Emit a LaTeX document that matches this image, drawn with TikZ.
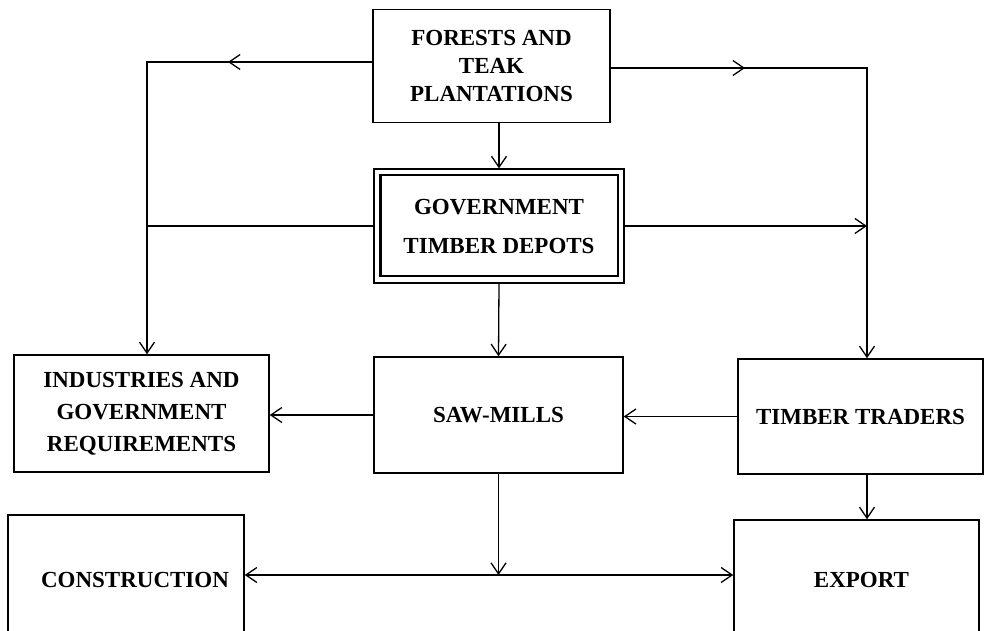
\documentclass[tikz,border=0pt]{standalone}
\usepackage{fontspec}
\setmainfont{Liberation Serif}
\usetikzlibrary{arrows.meta}
\begin{document}
\begin{tikzpicture}[x=1pt,y=-1pt,
 box/.style={draw, line width=1.5pt, inner sep=0pt, align=center},
 conn/.style={line width=1.3pt},
 arr/.style={conn, -{Straight Barb[length=11pt,width=15pt,line width=1.3pt]}},
]
\useasboundingbox (0,0) rectangle (984,631);
\clip (0,0) rectangle (984,631);

\node[box, minimum width=237pt, minimum height=113pt, font=\bfseries\fontsize{23}{28}\selectfont] (forests) at (491.5,66) {FORESTS AND\\TEAK\\PLANTATIONS};
\node[box, line width=1.2pt, minimum width=250pt, minimum height=114pt, font=\bfseries\fontsize{23}{39}\selectfont] (gov) at (499,226) {GOVERNMENT\\TIMBER DEPOTS};
\draw[line width=2.2pt] ([xshift=7pt,yshift=-7pt]gov.north west) rectangle ([xshift=-7pt,yshift=8pt]gov.south east);
\node[box, minimum width=255pt, minimum height=117pt, font=\bfseries\fontsize{23}{32}\selectfont] (ind) at (141.5,413.5) {INDUSTRIES AND\\GOVERNMENT\\REQUIREMENTS};
\node[box, minimum width=249pt, minimum height=116pt, font=\bfseries\fontsize{23}{30}\selectfont] (saw) at (498.5,415) {SAW-MILLS};
\node[box, minimum width=245pt, minimum height=115pt, font=\bfseries\fontsize{23}{30}\selectfont] (trad) at (860.5,416.5) {TIMBER TRADERS};
\node[box, minimum width=236pt, minimum height=130pt, font=\bfseries\fontsize{23}{30}\selectfont] (cons) at (126,580) {\hspace*{18pt}CONSTRUCTION};
\node[box, minimum width=245pt, minimum height=120pt, font=\bfseries\fontsize{23}{30}\selectfont] (exp) at (856.5,580) {\hspace*{10pt}EXPORT};

\coordinate (cl) at (147,62);
\coordinate (cr) at (867,68);
\coordinate (ml) at (228,62);
\coordinate (mr) at (745,68);
\coordinate (j) at (499,575);

% forests to left and right branches
\draw[arr] (forests.west |- cl) -- (cl) -- (cl |- ind.north);
\draw[arr] (forests.west |- cl) -- (ml);
\draw[arr] (forests.east |- cr) -- (cr) -- (cr |- trad.north);
\draw[arr] (forests.east |- cr) -- (mr);
\draw[arr] (forests.south -| gov.north) -- (gov.north);

% government depots
\draw[conn] (gov.west) -- (gov.west -| cl);
\draw[arr] (gov.east) -- (gov.east -| cr);
\draw[arr] (gov.south) -- (saw.north);

% middle row
\draw[arr] (saw.west) -- (saw.west -| ind.east);
\draw[arr] (trad.west) -- (trad.west -| saw.east);

% bottom
\draw[arr] (saw.south) -- (saw.south |- j);
\draw[arr] (j) -- (j -| cons.east);
\draw[arr] (j) -- (j -| exp.west);
\draw[arr] (cr |- trad.south) -- (cr |- exp.north);
\end{tikzpicture}
\end{document}
